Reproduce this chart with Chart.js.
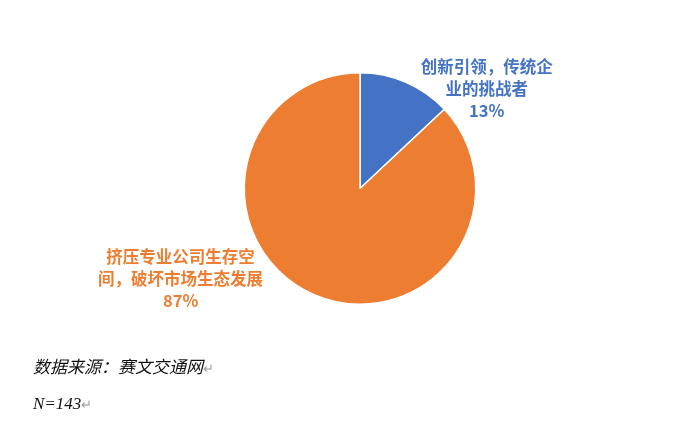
<!DOCTYPE html>
<html><head><meta charset="utf-8">
<script src="https://cdn.jsdelivr.net/npm/chart.js@4.4.0/dist/chart.umd.min.js"></script>
<style>
html,body{margin:0;padding:0;background:#fff;}
#wrap{position:relative;width:684px;height:426px;}
canvas{position:absolute;left:0;top:0;}
.note{position:absolute;left:33px;font-style:italic;color:#111;white-space:nowrap;}
.ret{color:#999;font-style:normal;font-size:13px;}
</style>
</head><body>
<div id="wrap">
<canvas id="c" width="684" height="426"></canvas>
<div class="note" style="top:353px;font-family:'Noto Sans CJK SC';font-size:17px;font-weight:400;">数据来源：赛文交通网<span class="ret">↵</span></div>
<div class="note" style="top:394px;font-family:'Liberation Serif';font-size:17px;">N=143<span class="ret">↵</span></div>
</div>
<script>
const categories = ['创新引领，传统企业的挑战者', '挤压专业公司生存空间，破坏市场生态发展'];
const labelLines = [['创新引领，传统企', '业的挑战者'], ['挤压专业公司生存空', '间，破坏市场生态发展']];
const values = [13, 87];
const colors = ['#4472C4', '#ED7D31'];

const labelPlugin = {
  id: 'pieLabels',
  afterDatasetsDraw(chart) {
    const ctx = chart.ctx;
    const meta = chart.getDatasetMeta(0);
    const offsets = chart.options.plugins.pieLabels.offsets;
    const total = values.reduce((a, b) => a + b, 0);
    meta.data.forEach((arc, i) => {
      const r = arc.outerRadius;
      const cx = arc.x + offsets[i][0] * r;
      const cy = arc.y + offsets[i][1] * r;
      const lines = labelLines[i].concat([Math.round(values[i] / total * 100) + '%']);
      ctx.save();
      ctx.fillStyle = colors[i];
      ctx.font = "bold 16.5px 'Noto Sans CJK SC'";
      ctx.textAlign = 'center';
      ctx.textBaseline = 'middle';
      const lh = 22;
      lines.forEach((ln, k) => {
        ctx.fillText(ln, cx, cy + (k - (lines.length - 1) / 2) * lh);
      });
      ctx.restore();
    });
  }
};

new Chart(document.getElementById('c'), {
  type: 'pie',
  data: {
    labels: categories,
    datasets: [{
      data: values,
      backgroundColor: colors,
      borderColor: '#ffffff',
      borderWidth: 1.5
    }]
  },
  options: {
    responsive: false,
    animation: false,
    layout: { padding: { left: 243, right: 207, top: 72, bottom: 121 } },
    plugins: {
      legend: { display: false },
      tooltip: { enabled: false },
      pieLabels: { offsets: [[1.095, -0.862], [-1.55, 0.776]] }
    }
  },
  plugins: [labelPlugin]
});
</script>
</body></html>
